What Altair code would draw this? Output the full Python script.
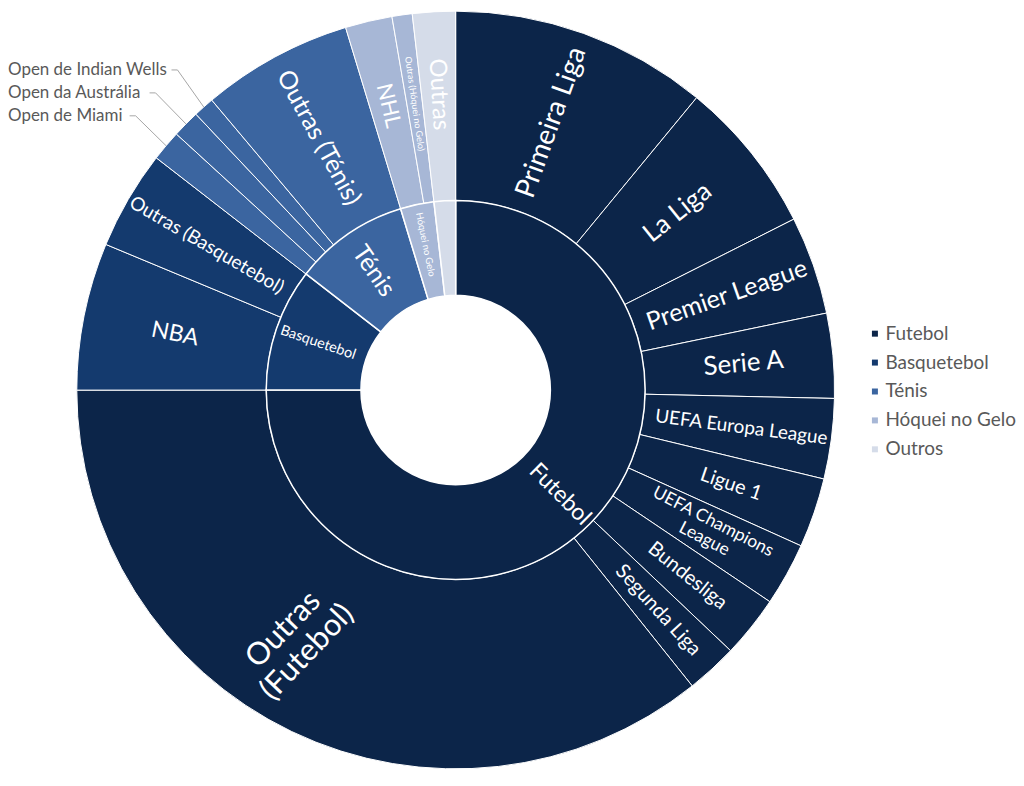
import altair as alt
import pandas as pd

# ---------------- data ----------------
parents = ["Futebol", "Basquetebol", "Ténis", "Hóquei no Gelo", "Outros"]
parent_colors = ["#0c2549", "#143a6e", "#3b65a0", "#a7b7d6", "#d5dce9"]

sub_labels = [
    "Primeira Liga", "La Liga", "Premier League", "Serie A", "UEFA Europa League",
    "Ligue 1", "UEFA Champions\nLeague", "Bundesliga", "Segunda Liga", "Outras\n(Futebol)",
    "NBA", "Outras (Basquetebol)",
    "Open de Miami", "Open da Austrália", "Open de Indian Wells", "Outras (Ténis)",
    "NHL", "Outras (Hóquei no Gelo)",
    "Outras",
]
sub_parents = [
    "Futebol", "Futebol", "Futebol", "Futebol", "Futebol",
    "Futebol", "Futebol", "Futebol", "Futebol", "Futebol",
    "Basquetebol", "Basquetebol",
    "Ténis", "Ténis", "Ténis", "Ténis",
    "Hóquei no Gelo", "Hóquei no Gelo",
    "Outros",
]
sub_values = [
    10.97, 6.58, 4.19, 3.61, 3.42,
    2.97, 2.69, 2.64, 2.19, 35.72,
    6.28, 4.22,
    1.31, 1.17, 0.89, 6.44,
    2.00, 0.86,
    1.83,
]

# ---------------- styles ----------------
FONT = "Lato"
sub_font_sizes = [28, 26, 25, 26, 19, 20, 17.5, 20, 20, 31, 23, 19, 0, 0, 0, 25, 22, 9, 24]
sub_label_radius = [285, 285, 288, 290, 289, 292, 290, 298, 300, 296, 287, 289, 0, 0, 0, 288, 293, 290, 297]
# label placement tweaks (degrees): position offset and extra rotation
sub_label_dpos = [0, 0, 0, 0, 0, 0, -2, 0, 0, 10, 0, 0, 0, 0, 0, 0, 0, 0, 0]
sub_label_drot = [0, 0, 0, 0, 0, 0, 0, 0, 0, 8, 0, 0, 0, 0, 0, 0, 0, 0, 0]
# labels drawn outside the ring (row index, leader start x); -1 = inside
sub_ext_row = [-1] * 12 + [2, 1, 0] + [-1] * 4
sub_ext_lead_x = [0] * 12 + [122, 142, 164] + [0] * 4
parent_font_sizes = [23, 14.5, 25, 9.5, 0]
parent_label_radius = [148, 146, 145, 149, 150]

TOTAL = sum(sub_values)
CX, CY = 449, 380
R_OUT, R_MID, R_IN = 380, 190, 95

outer = pd.DataFrame({
    "label": sub_labels,
    "parent": sub_parents,
    "value": sub_values,
    "order": list(range(len(sub_labels))),
    "fs": sub_font_sizes,
    "r": sub_label_radius,
    "dpos": sub_label_dpos,
    "drot": sub_label_drot,
    "ext": sub_ext_row,
    "leadx": sub_ext_lead_x,
})

inner_vals = [sum(v for v, p in zip(sub_values, sub_parents) if p == q) for q in parents]
inner = pd.DataFrame({
    "parent": parents,
    "value": inner_vals,
    "order": list(range(len(parents))),
    "fs": parent_font_sizes,
    "r": parent_label_radius,
    "dpos": [0] * len(parents),
    "drot": [0] * len(parents),
})

theta_scale = alt.Scale(domain=[0, TOTAL])
color = alt.Color(
    "parent:N",
    scale=alt.Scale(domain=parents, range=parent_colors),
    legend=alt.Legend(
        orient="none", legendX=860, legendY=314, title=None,
        symbolType="square", symbolSize=36, symbolStrokeWidth=0,
        labelFontSize=19, labelColor="#595959", labelFont=FONT,
        rowPadding=9, labelOffset=1,
    ),
)

angle_expr = (
    "(((datum.tdeg < 180 ? datum.tdeg - 90 : datum.tdeg - 270) + datum.drot) % 360 + 360) % 360"
)


def with_cum(base):
    return (
        base.transform_window(cum="sum(value)", sort=[alt.SortField("order")])
        .transform_calculate(start="datum.cum - datum.value", end="datum.cum")
        .transform_calculate(mid="(datum.start + datum.end) / 2")
        .transform_calculate(lmid=f"datum.mid + datum.dpos * {TOTAL} / 360")
        .transform_calculate(tdeg=f"360 * datum.lmid / {TOTAL}")
        .transform_calculate(ang=angle_expr)
    )


outer_base = with_cum(alt.Chart(outer))
inner_base = with_cum(alt.Chart(inner))

outer_arc = outer_base.mark_arc(radius=R_OUT, radius2=R_MID, stroke="white", strokeWidth=1).encode(
    theta=alt.Theta("start:Q", scale=theta_scale, stack=False),
    theta2="end:Q",
    color=color,
    order=alt.Order("order:Q"),
)

inner_arc = inner_base.mark_arc(radius=R_MID, radius2=R_IN, stroke="white", strokeWidth=1.5).encode(
    theta=alt.Theta("start:Q", scale=theta_scale, stack=False),
    theta2="end:Q",
    color=alt.Color("parent:N", scale=alt.Scale(domain=parents, range=parent_colors), legend=None),
    order=alt.Order("order:Q"),
)

outer_text = outer_base.transform_filter("datum.ext < 0").mark_text(
    color="white", font=FONT, lineBreak="\n", align="center", baseline="middle"
).encode(
    theta=alt.Theta("lmid:Q", scale=theta_scale, stack=False),
    radius=alt.Radius("r:Q", scale=None),
    text="label:N",
    size=alt.Size("fs:Q", scale=None),
    angle=alt.Angle("ang:Q", scale=None),
)

inner_text = inner_base.transform_filter("datum.fs > 0").mark_text(
    color="white", font=FONT, align="center", baseline="middle"
).encode(
    theta=alt.Theta("lmid:Q", scale=theta_scale, stack=False),
    radius=alt.Radius("r:Q", scale=None),
    text="parent:N",
    size=alt.Size("fs:Q", scale=None),
    angle=alt.Angle("ang:Q", scale=None),
)

ext_base = (
    outer_base.transform_filter("datum.ext >= 0")
    .transform_calculate(trad=f"2 * PI * datum.mid / {TOTAL}")
    .transform_calculate(
        px=f"{CX} + {R_OUT} * sin(datum.trad)",
        py=f"{CY} - {R_OUT} * cos(datum.trad)",
        ly="59 + 23 * datum.ext",
        lx2="datum.leadx + 6",
    )
)

ext_text = ext_base.mark_text(
    color="#595959", font=FONT, fontSize=17, align="left", baseline="middle"
).encode(
    x=alt.value(0),
    y=alt.Y("ly:Q", scale=None),
    text="label:N",
)

lead1 = ext_base.mark_rule(color="#a6a6a6", strokeWidth=1).encode(
    x=alt.X("leadx:Q", scale=None),
    x2="lx2:Q",
    y=alt.Y("ly:Q", scale=None),
    y2="ly:Q",
)

lead2 = ext_base.mark_rule(color="#a6a6a6", strokeWidth=1).encode(
    x=alt.X("lx2:Q", scale=None),
    x2="px:Q",
    y=alt.Y("ly:Q", scale=None),
    y2="py:Q",
)

chart = (
    alt.layer(outer_arc, inner_arc, outer_text, inner_text, lead1, lead2, ext_text)
    .properties(width=2 * CX, height=2 * CY, padding=0)
    .configure_view(stroke=None)
)

chart.save("out.html", embed_options={"renderer": "svg", "actions": False})
